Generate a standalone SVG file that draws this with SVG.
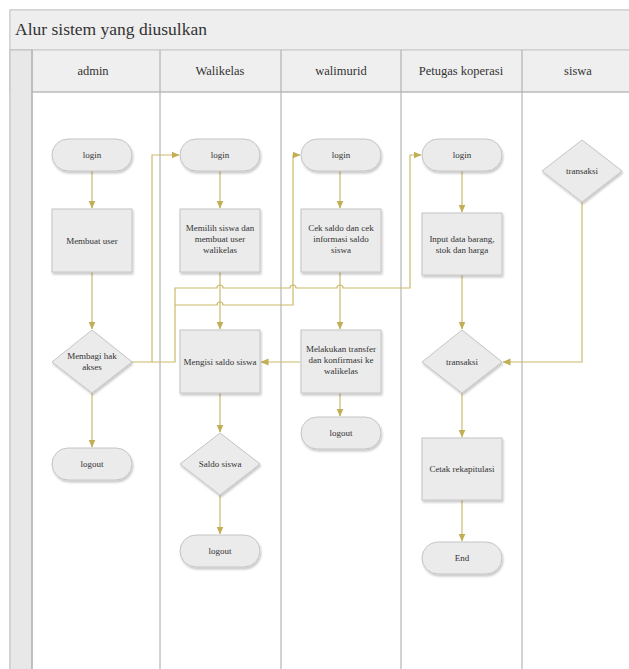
<svg xmlns="http://www.w3.org/2000/svg" width="629" height="669" viewBox="0 0 629 669">
<style>
.lane{fill:none;stroke:#a6a6a6;stroke-width:1}
.shape{fill:#ebebeb;stroke:#c4c4c4;stroke-width:1;filter:url(#sh)}
.t{font-family:'Liberation Serif','Times New Roman','DejaVu Serif',serif;font-size:9px;fill:#333;text-anchor:middle}
.h{font-family:'Liberation Serif','Times New Roman','DejaVu Serif',serif;font-size:12.5px;fill:#333;text-anchor:middle}
.ti{font-family:'Liberation Serif','Times New Roman','DejaVu Serif',serif;font-size:17.5px;fill:#333}
.c{fill:none;stroke:#cbb96a;stroke-width:1.2}
</style>
<defs>
<filter id="sh" x="-10%" y="-10%" width="130%" height="140%">
<feDropShadow dx="1" dy="2" stdDeviation="1.2" flood-color="#000" flood-opacity="0.22"/>
</filter>
<marker id="ar" viewBox="0 0 8 8" refX="7.5" refY="4" markerWidth="8" markerHeight="8" markerUnits="userSpaceOnUse" orient="auto">
<path d="M0,0.5 L8,4 L0,7.5 Z" fill="#c2ae55"/>
</marker>
</defs>
<rect width="629" height="669" fill="#fff"/>
<g id="frame">
<rect x="10" y="10" width="630" height="670" fill="#fff" stroke="#c8c8c8"/>
<rect x="10" y="10" width="630" height="40" fill="#eeeeee" stroke="#c8c8c8"/>
<text class="ti" x="15" y="35">Alur sistem yang diusulkan</text>
<rect x="10" y="50" width="630" height="42" fill="#efefef" stroke="#c8c8c8"/>
<rect x="10" y="50" width="22" height="630" fill="#e8e8e8" stroke="#c0c0c0"/>
<line class="lane" x1="32" y1="50" x2="32" y2="669"/>
<line class="lane" x1="160" y1="50" x2="160" y2="669"/>
<line class="lane" x1="281" y1="50" x2="281" y2="669"/>
<line class="lane" x1="401" y1="50" x2="401" y2="669"/>
<line class="lane" x1="522" y1="50" x2="522" y2="669"/>
<line x1="32" y1="92" x2="629" y2="92" stroke="#b5b5b5"/>
<text class="h" x="93" y="75">admin</text>
<text class="h" x="220" y="75">Walikelas</text>
<text class="h" x="341" y="75">walimurid</text>
<text class="h" x="461" y="75">Petugas koperasi</text>
<text class="h" x="578" y="75">siswa</text>
</g>
<g id="connectors">
<path class="c" d="M92,171 V208" marker-end="url(#ar)"/>
<path class="c" d="M92,272 V329" marker-end="url(#ar)"/>
<path class="c" d="M92,393 V447" marker-end="url(#ar)"/>
<path class="c" d="M132,362 H152 V155 H179" marker-end="url(#ar)"/>
<path class="c" d="M152,362 H175 V288 H217 a3,3 0 0 1 6,0 H290 a3,3 0 0 1 6,0 H337 a3,3 0 0 1 6,0 H410 V155 H421" marker-end="url(#ar)"/>
<path class="c" d="M175,305 H217 a3,3 0 0 1 6,0 H293 V155 H300" marker-end="url(#ar)"/>
<path class="c" d="M220,171 V208" marker-end="url(#ar)"/>
<path class="c" d="M220,272 V329" marker-end="url(#ar)"/>
<path class="c" d="M220,393 V432" marker-end="url(#ar)"/>
<path class="c" d="M220,495 V534" marker-end="url(#ar)"/>
<path class="c" d="M340,171 V208" marker-end="url(#ar)"/>
<path class="c" d="M340,272 V329" marker-end="url(#ar)"/>
<path class="c" d="M340,393 V416" marker-end="url(#ar)"/>
<path class="c" d="M300,362 H261" marker-end="url(#ar)"/>
<path class="c" d="M462,171 V212" marker-end="url(#ar)"/>
<path class="c" d="M462,275 V329" marker-end="url(#ar)"/>
<path class="c" d="M462,393 V437" marker-end="url(#ar)"/>
<path class="c" d="M462,500 V541" marker-end="url(#ar)"/>
<path class="c" d="M582,202 V362 H503" marker-end="url(#ar)"/>
</g>
<g id="admin-login"><rect class="shape" x="52" y="139" width="80" height="32" rx="16"/><text class="t" x="92" y="158">login</text></g>
<g id="admin-membuat"><rect class="shape" x="52" y="209" width="80" height="63"/><text class="t" x="92" y="244">Membuat user</text></g>
<g id="admin-membagi"><polygon class="shape" points="92,330 132,362 92,393 52,362"/><text class="t" x="92" y="359">Membagi hak</text><text class="t" x="92" y="370">akses</text></g>
<g id="admin-logout"><rect class="shape" x="52" y="448" width="80" height="32" rx="16"/><text class="t" x="92" y="467">logout</text></g>
<g id="wk-login"><rect class="shape" x="180" y="139" width="80" height="32" rx="16"/><text class="t" x="220" y="158">login</text></g>
<g id="wk-memilih"><rect class="shape" x="180" y="209" width="80" height="63"/><text class="t" x="220" y="231">Memilih siswa dan</text><text class="t" x="220" y="242">membuat user</text><text class="t" x="220" y="253">walikelas</text></g>
<g id="wk-mengisi"><rect class="shape" x="180" y="330" width="80" height="63"/><text class="t" x="220" y="365">Mengisi saldo siswa</text></g>
<g id="wk-saldo"><polygon class="shape" points="220,433 260,464 220,495 180,464"/><text class="t" x="220" y="467">Saldo siswa</text></g>
<g id="wk-logout"><rect class="shape" x="180" y="535" width="80" height="32" rx="16"/><text class="t" x="220" y="554">logout</text></g>
<g id="wm-login"><rect class="shape" x="301" y="139" width="80" height="32" rx="16"/><text class="t" x="341" y="158">login</text></g>
<g id="wm-cek"><rect class="shape" x="301" y="209" width="80" height="63"/><text class="t" x="341" y="231">Cek saldo dan cek</text><text class="t" x="341" y="242">informasi saldo</text><text class="t" x="341" y="253">siswa</text></g>
<g id="wm-transfer"><rect class="shape" x="301" y="330" width="80" height="63"/><text class="t" x="341" y="352">Melakukan transfer</text><text class="t" x="341" y="363">dan konfirmasi ke</text><text class="t" x="341" y="374">walikelas</text></g>
<g id="wm-logout"><rect class="shape" x="301" y="417" width="80" height="32" rx="16"/><text class="t" x="341" y="436">logout</text></g>
<g id="pk-login"><rect class="shape" x="422" y="139" width="80" height="32" rx="16"/><text class="t" x="462" y="158">login</text></g>
<g id="pk-input"><rect class="shape" x="422" y="213" width="80" height="62"/><text class="t" x="462" y="242">Input data barang,</text><text class="t" x="462" y="253">stok dan harga</text></g>
<g id="pk-transaksi"><polygon class="shape" points="462,330 502,362 462,393 422,362"/><text class="t" x="462" y="365">transaksi</text></g>
<g id="pk-cetak"><rect class="shape" x="422" y="438" width="80" height="62"/><text class="t" x="462" y="472">Cetak rekapitulasi</text></g>
<g id="pk-end"><rect class="shape" x="422" y="542" width="80" height="32" rx="16"/><text class="t" x="462" y="561">End</text></g>
<g id="siswa-transaksi"><polygon class="shape" points="582,140 622,171 582,202 542,171"/><text class="t" x="582" y="174">transaksi</text></g>
</svg>
